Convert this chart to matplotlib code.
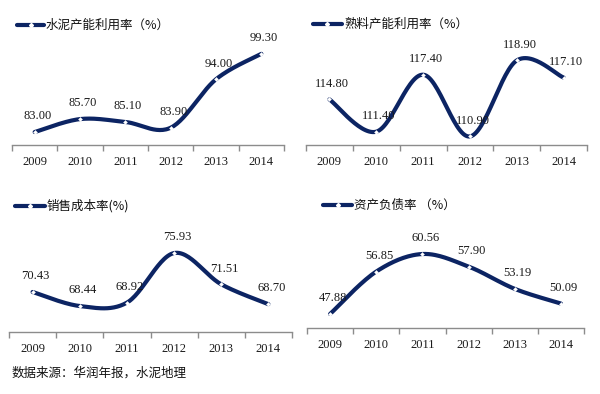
import numpy as np
import matplotlib
matplotlib.use("Agg")
import matplotlib.pyplot as plt

years = ["2009", "2010", "2011", "2012", "2013", "2014"]
cement_util = [83.00, 85.70, 85.10, 83.90, 94.00, 99.30]
clinker_util = [114.80, 111.40, 117.40, 110.90, 118.90, 117.10]
cost_ratio = [70.43, 68.44, 68.92, 75.93, 71.51, 68.70]
debt_ratio = [47.88, 56.85, 60.56, 57.90, 53.19, 50.09]

titles = ["水泥产能利用率（%）", "熟料产能利用率（%）", "销售成本率(%)", "资产负债率 （%）"]
source = "数据来源：华润年报，水泥地理"

LINE = "#0c2463"
AXC = "#8c8c8c"
W, H = 600, 394

fig = plt.figure(figsize=(6.0, 3.94), dpi=100)
fig.patch.set_facecolor("white")

def smooth(xs, ys, n=30):
    xs = np.asarray(xs, float); ys = np.asarray(ys, float)
    P = np.column_stack([xs, ys])
    Pe = np.vstack([P[0], P, P[-1]])
    out = []
    for i in range(len(P) - 1):
        p0, p1, p2, p3 = Pe[i], Pe[i + 1], Pe[i + 2], Pe[i + 3]
        c1 = p1 + (p2 - p0) / 6.0
        c2 = p2 - (p3 - p1) / 6.0
        t = np.linspace(0, 1, n)[:, None]
        seg = (1 - t) ** 3 * p1 + 3 * (1 - t) ** 2 * t * c1 + 3 * (1 - t) * t ** 2 * c2 + t ** 3 * p2
        out.append(seg if i == 0 else seg[1:])
    out = np.vstack(out)
    return out[:, 0], out[:, 1]

# (left, right, bottom_y, top_y, ylim, legend line x0, x1, legend y, values)
panels = [
    (12, 284, 145, 50, (80.3, 100.1), 17, 44, 25, cement_util),
    (306, 587, 145, 50, (110.0, 120.0), 313, 342, 24, clinker_util),
    (9, 292, 332, 237, (64.77, 78.2), 15, 45, 206, cost_ratio),
    (307, 584, 328, 233, (44.92, 65.0), 323, 352, 205, debt_ratio),
]

serif = ["Liberation Serif", "DejaVu Serif"]
cjk = ["Noto Sans CJK SC", "DejaVu Sans"]

for k, (l, r, b, t, yl, lx0, lx1, ly, vals) in enumerate(panels):
    ax = fig.add_axes([l / W, 1 - b / H, (r - l) / W, (b - t) / H])
    ax.set_xlim(0, 6)
    ax.set_ylim(*yl)
    ax.patch.set_alpha(0)
    for s in ["top", "right", "left"]:
        ax.spines[s].set_visible(False)
    ax.spines["bottom"].set_color(AXC)
    ax.spines["bottom"].set_linewidth(1.0)
    ax.set_yticks([])
    ax.set_xticks(np.arange(0, 7))
    ax.set_xticklabels([])
    ax.set_xticks(np.arange(0.5, 6), minor=True)
    ax.set_xticklabels(years, minor=True, fontfamily=serif, fontsize=9, color="#1a1a1a")
    ax.tick_params(axis="x", which="major", direction="out", length=4, color=AXC, width=1.0)
    ax.tick_params(axis="x", which="minor", length=0, pad=8)
    xs = np.arange(len(vals)) + 0.5
    sx, sy = smooth(xs, vals)
    ax.plot(sx, sy, color=LINE, lw=3.0, solid_capstyle="round", clip_on=False, zorder=3)
    ax.plot(xs, vals, ls="none", marker="D", ms=2.0, mfc="white", mec="white", mew=0.3,
            clip_on=False, zorder=4)
    for x, v in zip(xs, vals):
        ax.annotate(f"{v:.2f}", (x, v), xytext=(2, 7), textcoords="offset points",
                    ha="center", va="bottom", fontsize=9, fontfamily=serif,
                    color="#1a1a1a", annotation_clip=False, zorder=5)
    # legend
    fig.add_artist(plt.Line2D([lx0 / W, lx1 / W], [1 - ly / H, 1 - ly / H], color=LINE, lw=3.0,
                              solid_capstyle="round", transform=fig.transFigure))
    fig.add_artist(plt.Line2D([(lx0 + lx1) / 2 / W], [1 - ly / H], ls="none", marker="D", ms=2.0,
                              mfc="white", mec="white", transform=fig.transFigure))
    fig.text((lx1 + 2) / W, 1 - ly / H, titles[k], fontfamily=cjk, fontsize=9,
             va="center", ha="left", color="#111111")

fig.text(12 / W, 1 - 373 / H, source, fontfamily=cjk, fontsize=9, va="center", ha="left",
         color="#111111")

fig.savefig("out.png", dpi=100)
